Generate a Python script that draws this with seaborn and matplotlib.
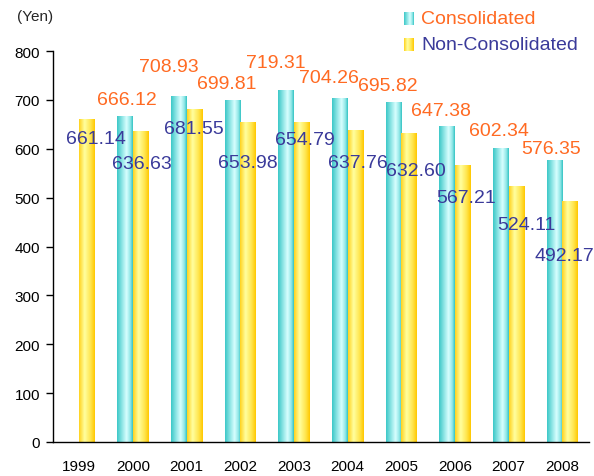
import numpy as np
import pandas as pd
import matplotlib
matplotlib.use("Agg")
import matplotlib.pyplot as plt
import seaborn as sns
from matplotlib.colors import LinearSegmentedColormap

# Datos del gráfico (yenes por acción)
years = ["1999", "2000", "2001", "2002", "2003", "2004", "2005", "2006", "2007", "2008"]
consolidated = [np.nan, 666.12, 708.93, 699.81, 719.31, 704.26, 695.82, 647.38, 602.34, 576.35]
non_consolidated = [661.14, 636.63, 681.55, 653.98, 654.79, 637.76, 632.60, 567.21, 524.11, 492.17]
series_names = ["Consolidated", "Non-Consolidated"]

# Desplazamiento de las etiquetas respecto al centro de la categoría (pixeles)
cons_dx = [0, -6, -18, -14, -18, -19, -13, -14, -10, -11]
cons_dy = [0, 17, 29, 16, 28, 20, 16, 15, 17, 12]
non_dx = [17, 9, 7, 8, 11, 10, 15, 11, 18, 2]
non_dy = [-20, -33, -20, -40, -18, -32, -38, -33, -39, -54]

ORANGE = "#FF6A22"
BLUE = "#3A3A9A"

cyan_cmap = LinearSegmentedColormap.from_list(
    "cyan", [(0, "#3CC8C8"), (0.6, "#D8FFFF"), (0.85, "#8FE6E6"), (1, "#33C4C4")])
yellow_cmap = LinearSegmentedColormap.from_list(
    "yellow", [(0, "#FFD21E"), (0.35, "#FFFFA0"), (0.75, "#FFE44A"), (1, "#FFC800")])

sns.set_style("white")
plt.rcParams["font.family"] = ["Liberation Sans", "DejaVu Sans"]

df = pd.DataFrame({
    "year": years * 2,
    "value": consolidated + non_consolidated,
    "type": [series_names[0]] * len(years) + [series_names[1]] * len(years),
}).dropna()

fig = plt.figure(figsize=(5.94, 4.77), dpi=100)
ax = fig.add_axes([52.5 / 594, 1 - 443 / 477, (589 - 52.5) / 594, (443 - 52) / 477])

sns.barplot(data=df, x="year", y="value", hue="type", hue_order=series_names,
            order=years, width=0.58, palette=["#5FD6D6", "#FFE44A"],
            errorbar=None, legend=False, ax=ax)

# Relleno en degradado de cada barra
grad = np.linspace(0, 1, 64).reshape(1, -1)
for container, cmap in zip(ax.containers, [cyan_cmap, yellow_cmap]):
    for bar in container:
        h = bar.get_height()
        if np.isnan(h) or h <= 0:
            continue
        x0 = bar.get_x()
        w = bar.get_width()
        im = ax.imshow(grad, cmap=cmap, aspect="auto", extent=[x0, x0 + w, 0, h],
                       interpolation="bilinear", zorder=2)
        im.set_clip_path(bar)
        bar.set_edgecolor("none")

ax.set_xlim(-0.5, 9.5)
ax.set_ylim(0, 800)
ax.set_yticks(range(0, 801, 100))
ax.set_xlabel("")
ax.set_ylabel("")

sns.despine(ax=ax)
for side in ["left", "bottom"]:
    ax.spines[side].set_color("black")
    ax.spines[side].set_linewidth(1.0)

ax.set_xticks(np.arange(0.5, 10, 1), minor=True)
ax.tick_params(axis="x", which="major", length=0, pad=12, labelsize=11, colors="black")
ax.tick_params(axis="x", which="minor", direction="out", length=5, width=1, color="black")
ax.tick_params(axis="y", direction="out", length=5, width=1, pad=4, labelsize=11,
               colors="black", left=True)

# Etiquetas de valores
for k in range(len(years)):
    if not np.isnan(consolidated[k]):
        ax.annotate(f"{consolidated[k]:.2f}", xy=(k, consolidated[k]),
                    xytext=(cons_dx[k], cons_dy[k]), textcoords="offset pixels",
                    ha="center", va="center", fontsize=14, color=ORANGE, zorder=5)
    ax.annotate(f"{non_consolidated[k]:.2f}", xy=(k, non_consolidated[k]),
                xytext=(non_dx[k], non_dy[k]), textcoords="offset pixels",
                ha="center", va="center", fontsize=14, color=BLUE, zorder=5)

fig.text(35 / 594, 1 - 17 / 477, "(Yen)", ha="center", va="center", fontsize=11)

# Leyenda manual con muestras en degradado
for name, cmap, color, yc in zip(series_names, [cyan_cmap, yellow_cmap],
                                  [ORANGE, BLUE], [19, 45]):
    sw = fig.add_axes([404 / 594, 1 - (yc + 7) / 477, 10 / 594, 13 / 477])
    sw.imshow(grad, cmap=cmap, aspect="auto", interpolation="bilinear")
    sw.axis("off")
    fig.text(421 / 594, 1 - yc / 477, name, ha="left", va="center",
             fontsize=14, color=color)

fig.savefig("out.png", dpi=100)
